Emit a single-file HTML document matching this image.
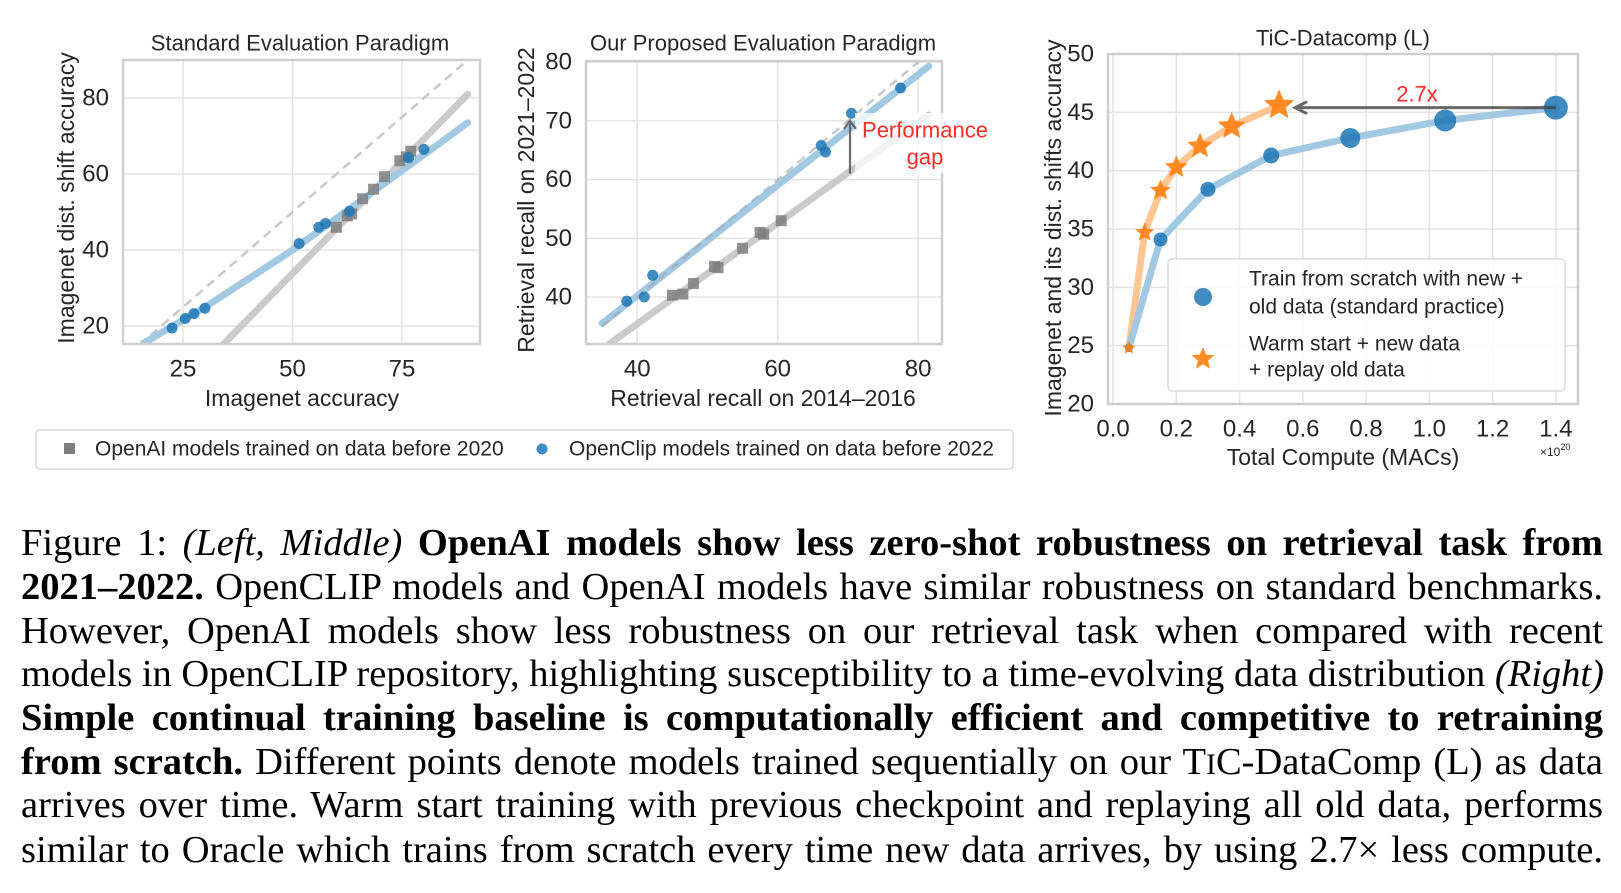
<!DOCTYPE html>
<html><head><meta charset="utf-8">
<style>
html,body{margin:0;padding:0;background:#fff;}
body{width:1621px;height:893px;position:relative;overflow:hidden;}
svg{position:absolute;left:0;top:0;}
svg text{font-family:"Liberation Sans","DejaVu Sans",sans-serif;fill:#262626;}
.cap{position:absolute;left:21px;width:1582px;font-family:"Liberation Serif",serif;font-size:38.5px;color:#000;white-space:nowrap;text-align:justify;text-align-last:justify;line-height:44px;}
</style></head>
<body>
<svg id="fig" width="1621" height="893"></svg>
<div>
<div class="cap" style="top:521px">Figure 1: <i>(Left, Middle)</i> <b>OpenAI models show less zero-shot robustness on retrieval task from</b></div>
<div class="cap" style="top:565px"><b>2021–2022.</b> OpenCLIP models and OpenAI models have similar robustness on standard benchmarks.</div>
<div class="cap" style="top:609px">However, OpenAI models show less robustness on our retrieval task when compared with recent</div>
<div class="cap" style="top:652px">models in OpenCLIP repository, highlighting susceptibility to a time-evolving data distribution <i>(Right)</i></div>
<div class="cap" style="top:696px"><b>Simple continual training baseline is computationally efficient and competitive to retraining</b></div>
<div class="cap" style="top:740px"><b>from scratch.</b> Different points denote models trained sequentially on our T<span style="font-size:0.78em">I</span>C-DataComp (L) as data</div>
<div class="cap" style="top:783px">arrives over time. Warm start training with previous checkpoint and replaying all old data, performs</div>
<div class="cap" style="top:828px">similar to Oracle which trains from scratch every time new data arrives, by using 2.7× less compute.</div>
</div>
<script>
// ---- Chart 1 data ----
const c1BlueX=[22.5,25.5,27.5,30,51.5,56,57.5,63,76.5,80];
const c1BlueY=[19.5,22,23.3,24.7,41.7,46,47,50.2,64.3,66.5];
const c1GrayX=[60,62.5,63.5,66,68.5,71,74.5,76,77];
const c1GrayY=[46,49,49.5,53.5,56,59.3,63.5,64.5,66];
const c1BlueFitX=[16,30,50,65,90];
const c1BlueFitY=[15.5,25,40,52.5,73.5];
const c1GrayFitX=[34,90];
const c1GrayFitY=[15,81];
const c1XTicks=[25,50,75];
const c1YTicks=[20,40,60,80];
// ---- Chart 2 data ----
const c2BlueX=[38.5,41,42.2,66.2,66.8,70.5,77.5];
const c2BlueY=[39.3,40,43.7,65.8,64.7,71.3,75.6];
const c2GrayX=[45,46.5,48,51,51.5,55,57.5,58,60.5];
const c2GrayY=[40.3,40.5,42.3,45.2,45,48.3,51,50.7,53];
const c2BlueFitX=[35,81.5];
const c2BlueFitY=[35.5,79.3];
const c2GrayFitX=[36,81.5];
const c2GrayFitY=[32,71];
const c2XTicks=[40,60,80];
const c2YTicks=[40,50,60,70,80];
// ---- Chart 3 data ----
const c3ScratchX=[0.05,0.15,0.3,0.5,0.75,1.05,1.4];
const c3ScratchY=[24.8,34.1,38.4,41.3,42.8,44.3,45.4];
const c3WarmX=[0.05,0.1,0.15,0.2,0.275,0.375,0.525];
const c3WarmY=[24.8,34.7,38.3,40.3,42.1,43.8,45.6];
const c3XTicks=[0.0,0.2,0.4,0.6,0.8,1.0,1.2,1.4];
const c3YTicks=[20,25,30,35,40,45,50];

const NS="http://www.w3.org/2000/svg";
const svg=document.getElementById('fig');
function mk(tag,attrs,parent){const e=document.createElementNS(NS,tag);for(const k in attrs)e.setAttribute(k,attrs[k]);(parent||svg).appendChild(e);return e;}
function txt(s,x,y,size,anchor,parent,fill){const t=mk('text',{x:x,y:y,'font-size':size,'text-anchor':anchor||'middle','dominant-baseline':'central'},parent);if(fill)t.style.fill=fill;t.textContent=s;return t;}
function scale(d0,d1,r0,r1){return v=>r0+(v-d0)/(d1-d0)*(r1-r0);}
function frame(g,L,R,T,B,xs,ys,xt,yt,fmt){
  xt.forEach(v=>{const l=mk('line',{x1:xs(v),x2:xs(v),y1:T,y2:B,stroke:'#e3e3e3','stroke-width':1.5},g);
    const t=txt(fmt?fmt(v):String(v),xs(v),B+25,24,'middle',g);});
  yt.forEach(v=>{const l=mk('line',{x1:L,x2:R,y1:ys(v),y2:ys(v),stroke:'#e3e3e3','stroke-width':1.5},g);
    const t=txt(String(v),L-14,ys(v),24,'end',g);});
}
function spine(g,L,R,T,B){const r=mk('rect',{x:L,y:T,width:R-L,height:B-T,fill:'none',stroke:'#cfcfcf','stroke-width':2.5},g);}
function poly(g,xs,ys,X,Y,stroke,w,extra){const pts=X.map((v,i)=>xs(v)+','+ys(Y[i])).join(' ');const p=mk('polyline',Object.assign({points:pts,fill:'none',stroke:stroke,'stroke-width':w,'stroke-linecap':'round','stroke-linejoin':'round'},extra||{}),g);return p;}

// ===== Chart 1 =====
(function(){
 const L=123,R=480,T=60,B=344;
 const xs=scale(11.3,92.8,L,R), ys=scale(15.3,90,B,T);
 const g=mk('g',{});
 const cp=mk('clipPath',{id:'cp1'},g);mk('rect',{x:L,y:T,width:R-L,height:B-T},cp);
 frame(g,L,R,T,B,xs,ys,c1XTicks,c1YTicks);
 const pg=mk('g',{'clip-path':'url(#cp1)'},g);
 const d=mk('line',{x1:xs(15),y1:ys(15),x2:xs(89),y2:ys(89),stroke:'#c8c8c8','stroke-width':2.5,'stroke-dasharray':'9,6'},pg);
 const gl=poly(pg,xs,ys,c1GrayFitX,c1GrayFitY,'#cbcbcb',7);
 const bl=poly(pg,xs,ys,c1BlueFitX,c1BlueFitY,'#a3c8e2',7);
 c1GrayX.forEach((v,i)=>{const s=mk('rect',{x:xs(v)-5.5,y:ys(c1GrayY[i])-5.5,width:11,height:11,fill:'#7f7f7f','fill-opacity':0.85},pg);});
 c1BlueX.forEach((v,i)=>{const c=mk('circle',{cx:xs(v),cy:ys(c1BlueY[i]),r:5.5,fill:'#1f77b4','fill-opacity':0.85},pg);});
 spine(g,L,R,T,B);
 let t=txt('Standard Evaluation Paradigm',300,43,22,'middle',g);
 t=txt('Imagenet accuracy',302,398,23,'middle',g);
 t=txt('Imagenet dist.  shift accuracy',0,0,23,'middle',g);t.setAttribute('transform','translate(66,198) rotate(-90)');
})();

// ===== Chart 2 =====
(function(){
 const L=586,R=942,T=61,B=344;
 const xs=scale(32.7,83.4,L,R), ys=scale(32,80.2,B,T);
 const g=mk('g',{});
 const cp=mk('clipPath',{id:'cp2'},g);mk('rect',{x:L,y:T,width:R-L,height:B-T},cp);
 frame(g,L,R,T,B,xs,ys,c2XTicks,c2YTicks);
 const pg=mk('g',{'clip-path':'url(#cp2)'},g);
 const gl=poly(pg,xs,ys,c2GrayFitX,c2GrayFitY,'#cbcbcb',7);
 const bl=poly(pg,xs,ys,c2BlueFitX,c2BlueFitY,'#a3c8e2',7);
 const d=mk('line',{x1:xs(35),y1:ys(35),x2:xs(81),y2:ys(81),stroke:'#9aa7b2','stroke-opacity':0.6,'stroke-width':2.5,'stroke-dasharray':'9,6'},pg);
 c2GrayX.forEach((v,i)=>{const s=mk('rect',{x:xs(v)-5.5,y:ys(c2GrayY[i])-5.5,width:11,height:11,fill:'#7f7f7f','fill-opacity':0.85},pg);});
 c2BlueX.forEach((v,i)=>{const c=mk('circle',{cx:xs(v),cy:ys(c2BlueY[i]),r:5.5,fill:'#1f77b4','fill-opacity':0.85},pg);});
 spine(g,L,R,T,B);
 const wb=mk('rect',{x:855,y:113,width:140,height:60,fill:'#fff','fill-opacity':0.75},g);
 const ax=xs(70.3);
 const ar=mk('path',{d:`M${ax},${ys(61)} L${ax},${ys(70)} M${ax-6},${ys(70)+8} L${ax},${ys(70)} L${ax+6},${ys(70)+8}`,fill:'none',stroke:'#555','stroke-width':2.2,'stroke-opacity':0.85},g);
 let t=txt('Performance',925,130,22,'middle',g,'#ff2a2a');
 t=txt('gap',925,157,22,'middle',g,'#ff2a2a');
 t=txt('Our Proposed Evaluation Paradigm',763,43,22,'middle',g);
 t=txt('Retrieval recall on 2014–2016',763,398,23,'middle',g);
 t=txt('Retrieval recall on 2021–2022',0,0,23,'middle',g);t.setAttribute('transform','translate(526,200) rotate(-90)');
})();

// shared legend
(function(){
 const g=mk('g',{});
 mk('rect',{x:36,y:430,width:977,height:39,rx:4,fill:'#fff',stroke:'#d8d8d8','stroke-width':1.5},g);
 const s=mk('rect',{x:64,y:443,width:11,height:11,fill:'#7f7f7f'},g);
 let t=txt('OpenAI models trained on data before 2020',95,449,21,'start',g);
 const c=mk('circle',{cx:542,cy:449,r:5.5,fill:'#1f77b4','fill-opacity':0.85},g);
 t=txt('OpenClip models trained on data before 2022',569,449,21,'start',g);
})();

// ===== Chart 3 =====
function starPath(cx,cy,r){let p='';for(let i=0;i<10;i++){const a=-Math.PI/2+i*Math.PI/5;const rr=i%2?r*0.45:r;p+=(i?'L':'M')+(cx+rr*Math.cos(a)).toFixed(2)+','+(cy+rr*Math.sin(a)).toFixed(2);}return p+'Z';}
(function(){
 const L=1108,R=1578,T=54,B=404;
 const xs=scale(-0.016,1.47,L,R), ys=scale(20,50,B,T);
 const g=mk('g',{});
 frame(g,L,R,T,B,xs,ys,c3XTicks,c3YTicks,v=>v.toFixed(1));
 const ol=poly(g,xs,ys,c3WarmX,c3WarmY,'#ffc592',7);
 const bl=poly(g,xs,ys,c3ScratchX,c3ScratchY,'#a3c8e2',7);
 const rads=[4,7,7.5,8,10,11,12];
 c3ScratchX.forEach((v,i)=>{const c=mk('circle',{cx:xs(v),cy:ys(c3ScratchY[i]),r:rads[i],fill:'#1f77b4','fill-opacity':0.85},g);});
 const srads=[7,10,11,12,13.5,14.5,16];
 c3WarmX.forEach((v,i)=>{const p=mk('path',{d:starPath(xs(v),ys(c3WarmY[i]),srads[i]),fill:'#ff7f0e','fill-opacity':0.9},g);});
 const ay=ys(45.4), x0=xs(1.4), x1=xs(0.525)+16;
 const ar=mk('path',{d:`M${x0},${ay} L${x1},${ay} M${x1+12},${ay-6} L${x1},${ay} L${x1+12},${ay+6}`,fill:'none',stroke:'#444','stroke-width':3,'stroke-opacity':0.8},g);
 let t=txt('2.7x',1417,94,22,'middle',g,'#ff2a2a');
 spine(g,L,R,T,B);
 const lg=mk('g',{},g);
 mk('rect',{x:1168,y:259,width:397,height:132,rx:4,fill:'#fff','fill-opacity':0.85,stroke:'#dcdcdc','stroke-width':1.5},lg);
 const lc=mk('circle',{cx:1203,cy:297,r:9,fill:'#1f77b4','fill-opacity':0.85},lg);
 t=txt('Train from scratch with new +',1249,279,21,'start',lg);
 t=txt('old data (standard practice)',1249,307,21,'start',lg);
 const ls=mk('path',{d:starPath(1203,359,12),fill:'#ff7f0e','fill-opacity':0.9},lg);
 t=txt('Warm start + new data',1249,344,21,'start',lg);
 t=txt('+ replay old data',1249,370,21,'start',lg);
 t=txt('TiC-Datacomp (L)',1343,38,22,'middle',g);
 t=txt('Total Compute (MACs)',1343,457,23,'middle',g);
 t=txt('Imagenet and its dist.  shifts accuracy',0,0,23,'middle',g);t.setAttribute('transform','translate(1053,228) rotate(-90)');
 const m=mk('text',{x:1540,y:452,'font-size':12,'dominant-baseline':'central'},g);
 m.textContent='×10';const sup=mk('tspan',{'font-size':9,dy:-5},m);sup.textContent='20';
})();
</script>
</body></html>
